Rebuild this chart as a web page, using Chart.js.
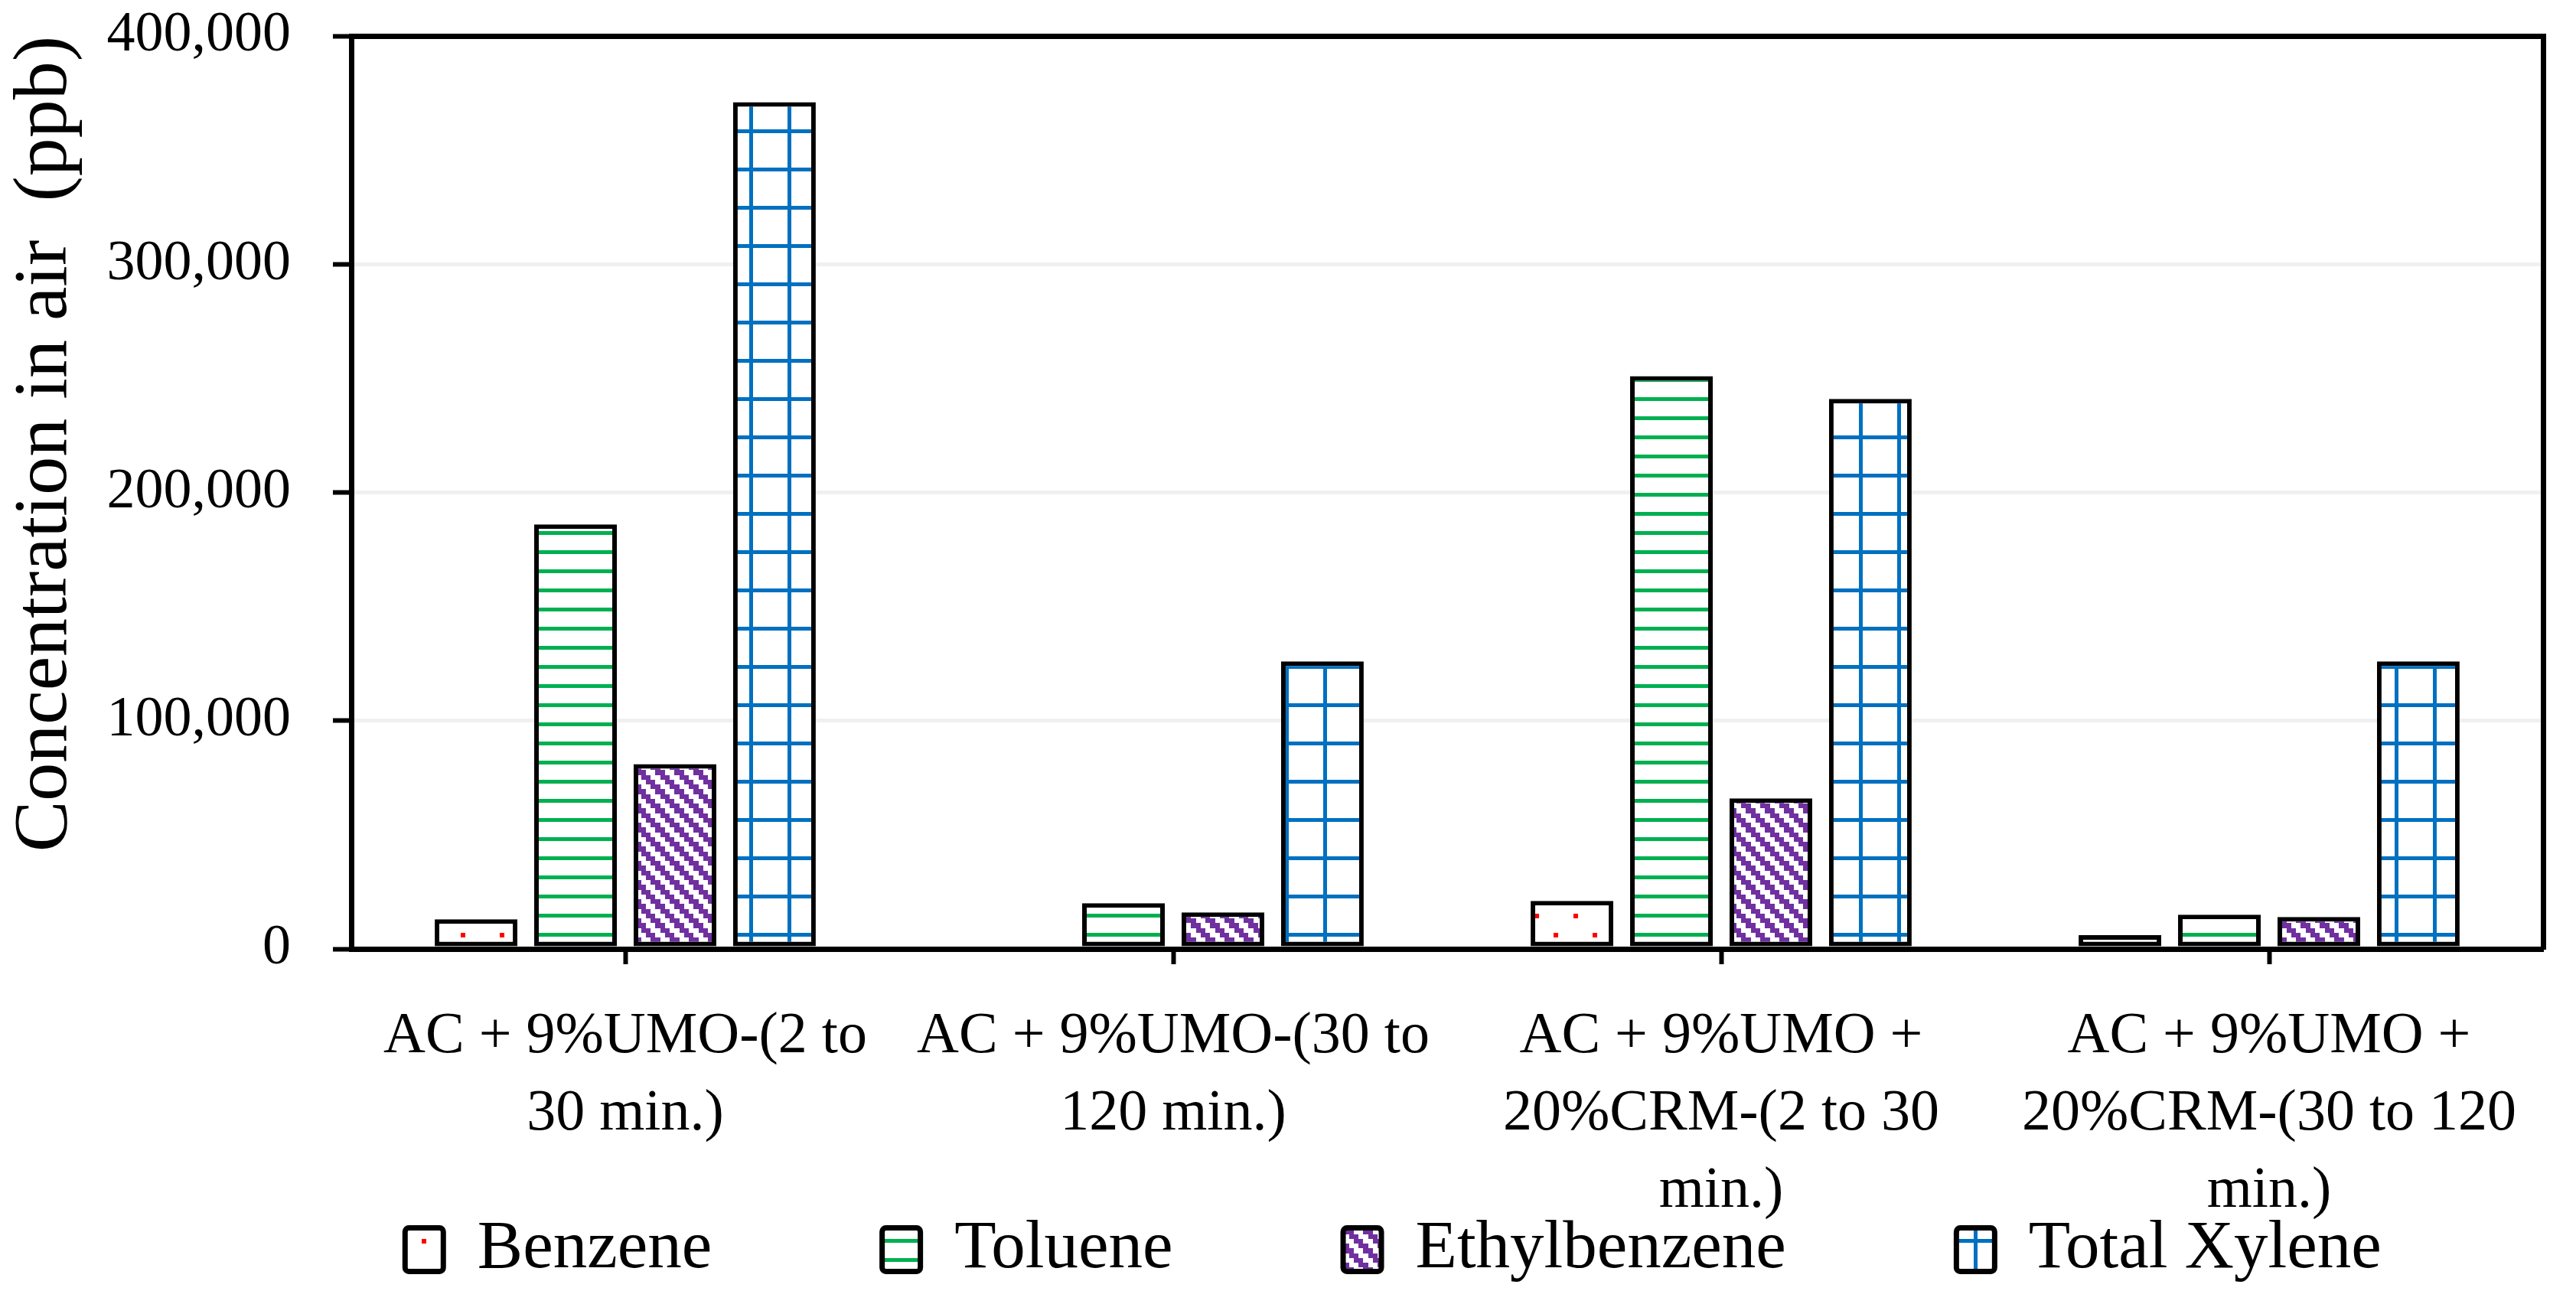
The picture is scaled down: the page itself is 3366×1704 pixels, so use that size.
<!DOCTYPE html>
<html>
<head>
<meta charset="utf-8">
<script src="https://cdn.jsdelivr.net/npm/chart.js@4.4.1/dist/chart.umd.min.js"></script>
<style>
html,body{margin:0;padding:0;background:#fff;overflow:hidden}
#wrap{width:3366px;height:1704px;position:relative}
</style>
</head>
<body>
<div id="wrap"><canvas id="c"></canvas></div>
<script>
// ---- data ----
const categories = [
  ["AC + 9%UMO-(2 to", "30 min.)"],
  ["AC + 9%UMO-(30 to", "120 min.)"],
  ["AC + 9%UMO +", "20%CRM-(2 to 30", "min.)"],
  ["AC + 9%UMO +", "20%CRM-(30 to 120", "min.)"]
];
const seriesNames = ["Benzene", "Toluene", "Ethylbenzene", "Total Xylene"];
const benzene      = [13000, null, 21000, 6000];
const toluene      = [186000, 20000, 251000, 15000];
const ethylbenzene = [81000, 16000, 66000, 14000];
const totalXylene  = [371000, 126000, 241000, 126000];
const yTicks = [0, 100000, 200000, 300000, 400000];
const yTitle = "Concentration in air  (ppb)";

// ---- fill patterns ----
function makePattern(w, h, draw) {
  const c = document.createElement('canvas');
  c.width = w; c.height = h;
  const g = c.getContext('2d');
  g.fillStyle = '#ffffff';
  g.fillRect(0, 0, w, h);
  draw(g);
  return document.getElementById('c').getContext('2d').createPattern(c, 'repeat');
}
const dotsPattern = makePattern(51, 50, g => {
  g.fillStyle = '#ff0000';
  g.fillRect(16, 44, 6, 6);
  g.fillRect(41, 19, 6, 6);
});
const hLinesPattern = makePattern(25, 25, g => {
  g.fillStyle = '#00b050';
  g.fillRect(0, 19, 25, 5);
});
const diagPattern = makePattern(25, 25, g => {
  g.fillStyle = '#7030a0';
  const b = [0, 6, 13, 19, 25];
  for (let r = 0; r < 4; r++) {
    for (const k of [r, r + 1]) {
      const cidx = k % 4;
      g.fillRect(b[cidx], b[r], b[cidx + 1] - b[cidx], b[r + 1] - b[r]);
    }
  }
});
const gridPattern = makePattern(50, 50, g => {
  g.fillStyle = '#0070c0';
  g.fillRect(29, 0, 5, 50);
  g.fillRect(0, 19, 50, 5);
});

const FONT = "'Liberation Serif', 'Times New Roman', serif";
Chart.defaults.font.family = FONT;
Chart.defaults.color = '#000000';

const barCommon = {
  borderColor: '#000000',
  borderWidth: 6,
  borderSkipped: false,
  categoryPercentage: 0.726,
  barPercentage: 0.831
};

const layoutFix = {
  id: 'layoutFix',
  afterLayout(chart) {
    const L = chart.legend;
    if (L) { L.left += 159; L.right += 159; }
    const x = chart.scales.x;
    if (x) { x.bottom = chart.height; x.height = x.bottom - x.top; }
  }
};

new Chart(document.getElementById('c'), {
  type: 'bar',
  data: {
    labels: categories,
    datasets: [
      Object.assign({label: seriesNames[0], data: benzene, backgroundColor: dotsPattern}, barCommon),
      Object.assign({label: seriesNames[1], data: toluene, backgroundColor: hLinesPattern}, barCommon),
      Object.assign({label: seriesNames[2], data: ethylbenzene, backgroundColor: diagPattern}, barCommon),
      Object.assign({label: seriesNames[3], data: totalXylene, backgroundColor: gridPattern}, barCommon)
    ]
  },
  options: {
    responsive: true,
    maintainAspectRatio: false,
    devicePixelRatio: 1,
    animation: false,
    layout: { padding: { top: 47, right: 43, bottom: 16.5, left: 0 } },
    plugins: {
      tooltip: { enabled: false },
      title: { display: false },
      legend: {
        position: 'bottom',
        align: 'center',
        labels: {
          font: { size: 89, family: FONT },
          color: '#000',
          boxWidth: 50,
          boxHeight: 57,
          padding: 222.5,
          useBorderRadius: true,
          borderRadius: 5,
          generateLabels(chart) {
            const items = Chart.defaults.plugins.legend.labels.generateLabels(chart);
            items.forEach(it => { it.lineWidth = 7; it.strokeStyle = '#000'; });
            return items;
          }
        }
      }
    },
    scales: {
      x: {
        offset: true,
        grid: {
          offset: false,
          drawOnChartArea: false,
          drawTicks: true,
          tickLength: 20,
          tickColor: '#000',
          tickWidth: 6
        },
        border: { display: true, color: '#000', width: 7 },
        ticks: {
          font: { size: 76, family: FONT, lineHeight: 1.33 },
          color: '#000',
          padding: 44.5,
          maxRotation: 0,
          minRotation: 0,
          autoSkip: false
        },
        afterFit(scale) { scale.height = 126; scale.paddingLeft = 0; scale.paddingRight = 0; }
      },
      y: {
        min: 0,
        max: 400000,
        afterBuildTicks(scale) { scale.ticks = yTicks.map(v => ({ value: v })); },
        grid: {
          color: ctx => (ctx.tick && (ctx.tick.value === 400000 || ctx.tick.value === 0)) ? '#000' : '#f0f0f0',
          lineWidth: ctx => (ctx.tick && (ctx.tick.value === 400000 || ctx.tick.value === 0)) ? 7 : 5,
          drawTicks: true,
          tickLength: 24,
          tickColor: '#000',
          tickWidth: 6
        },
        border: { display: true, color: '#000', width: 7 },
        ticks: {
          font: { size: 74, family: FONT },
          color: '#000',
          padding: 55,
          callback: v => Number(v).toLocaleString('en-US')
        },
        title: {
          display: true,
          text: yTitle,
          align: 'end',
          font: { size: 100, family: FONT, lineHeight: 1.2 },
          color: '#000',
          padding: { top: 0, bottom: 0 }
        },
        afterFit(scale) { scale.width = 459; scale.paddingTop = 0; scale.paddingBottom = 0; }
      },
      y2: {
        position: 'right',
        min: 0,
        max: 400000,
        ticks: { display: false },
        grid: { display: false, drawTicks: false },
        border: { display: true, color: '#000', width: 7 },
        afterFit(scale) { scale.width = 0; scale.paddingTop = 0; scale.paddingBottom = 0; }
      }
    }
  },
  plugins: [layoutFix]
});
</script>
</body>
</html>
